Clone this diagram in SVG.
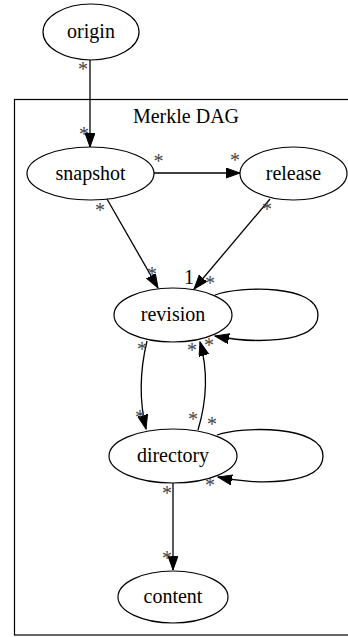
<svg xmlns="http://www.w3.org/2000/svg" width="348" height="637" viewBox="0 0 348 637">
<style>
.n ellipse{fill:none;stroke:#000;stroke-width:1.2}
.n text,.c text{font-size:20px;text-anchor:middle;fill:#000}
.e path{fill:none;stroke:#000;stroke-width:1.3}
.l text{font-size:20px;text-anchor:middle;fill:#444}
</style>
<defs>
<marker id="ah" markerUnits="userSpaceOnUse" markerWidth="15" markerHeight="11" refX="14" refY="5" orient="auto" viewBox="0 0 15 11">
<path d="M0,0 L14,5 L0,10 z" fill="#000" stroke="#000"/>
</marker>
</defs>
<rect fill="#fff" width="348" height="637"/>
<g font-family="Liberation Serif">
<g id="cluster" class="c">
<rect x="14.5" y="99.5" width="340" height="535.5" fill="none" stroke="#000" stroke-width="1.2"/>
<text x="186" y="123" font-family="Liberation Serif">Merkle DAG</text>
</g>
<g id="origin" class="n"><ellipse cx="91" cy="32" rx="48" ry="28"/><text x="91" y="38" font-family="Liberation Serif">origin</text></g>
<g id="snapshot" class="n"><ellipse cx="90.5" cy="173.5" rx="63.5" ry="26.5"/><text x="90.5" y="180" font-family="Liberation Serif">snapshot</text></g>
<g id="release" class="n"><ellipse cx="293.5" cy="173.5" rx="53.5" ry="26.5"/><text x="293.5" y="180" font-family="Liberation Serif">release</text></g>
<g id="revision" class="n"><ellipse cx="173" cy="315" rx="59" ry="27"/><text x="173" y="321" font-family="Liberation Serif">revision</text></g>
<g id="directory" class="n"><ellipse cx="173" cy="456" rx="64" ry="27"/><text x="173" y="462" font-family="Liberation Serif">directory</text></g>
<g id="content" class="n"><ellipse cx="173" cy="597" rx="55" ry="26"/><text x="173" y="603" font-family="Liberation Serif">content</text></g>
<g id="edges" class="e">
<path d="M90,60 L90,147" marker-end="url(#ah)"/>
<path d="M154,173 L240,173" marker-end="url(#ah)"/>
<path d="M107,199 L158,288" marker-end="url(#ah)"/>
<path d="M270,199 L194,289" marker-end="url(#ah)"/>
<path d="M147,341 C140,370 139,400 146,429" marker-end="url(#ah)"/>
<path d="M198,430 C207,400 208,370 200,342" marker-end="url(#ah)"/>
<path d="M215,295 C240,286 318,284 318,315 C318,345 250,343 215,336" marker-end="url(#ah)"/>
<path d="M217,435 C242,426 323,425 323,456 C323,486 255,485 218,477" marker-end="url(#ah)"/>
<path d="M173,483 L173,570" marker-end="url(#ah)"/>
</g>
<g id="labels" class="l" font-family="Liberation Serif">
<text x="83" y="76">*</text>
<text x="84" y="141">*</text>
<text x="158.5" y="168">*</text>
<text x="235" y="167">*</text>
<text x="100" y="217">*</text>
<text x="152" y="281">*</text>
<text x="267" y="216">*</text>
<text x="189" y="284" fill="#000" style="fill:#000">1</text>
<text x="210" y="290">*</text>
<text x="142" y="356">*</text>
<text x="140" y="424">*</text>
<text x="192" y="357">*</text>
<text x="209" y="352">*</text>
<text x="193" y="426">*</text>
<text x="212" y="431">*</text>
<text x="210" y="492">*</text>
<text x="167" y="500">*</text>
<text x="167" y="565">*</text>
</g>
</g>
</svg>
